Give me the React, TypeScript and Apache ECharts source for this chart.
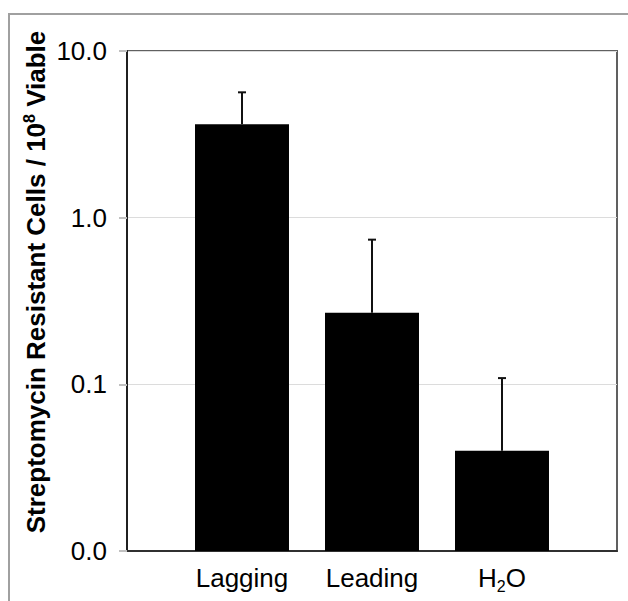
import React, { useEffect, useRef } from "react";
import * as echarts from "echarts";

const categories = ["Lagging", "Leading", "H2O"];
const means = [3.63, 0.269, 0.04];
const upperErrors = [5.65, 0.738, 0.109];
const yMin = 0.01;
const yMax = 10;

const FONT = "'Liberation Sans', Arial, sans-serif";

export default function App() {
  const ref = useRef<HTMLDivElement>(null);
  useEffect(() => {
    if (!ref.current) return;
    const chart = echarts.init(ref.current, null, { renderer: "svg" });
    const barData = categories.map((_, i) => [i, means[i]]);
    const errData = categories.map((_, i) => [i, means[i], upperErrors[i]]);
    chart.setOption({
      animation: false,
      backgroundColor: "#fff",
      textStyle: { fontFamily: FONT },
      grid: [
        { left: 127, top: 51, width: 490, height: 500, show: true, borderColor: "#606060", borderWidth: 2, backgroundColor: "transparent" },
        { left: 177, top: 51, width: 390, height: 500 },
      ],
      xAxis: [
        {
          type: "category",
          gridIndex: 0,
          data: ["x"],
          axisLine: { show: true, lineStyle: { color: "#303030", width: 2 } },
          axisTick: { show: false },
          axisLabel: { show: false },
        },
        {
          type: "category",
          gridIndex: 1,
          data: categories,
          axisLine: { show: false },
          axisTick: { show: false },
          axisLabel: {
            interval: 0,
            margin: 14,
            fontSize: 26,
            color: "#000",
            fontFamily: FONT,
            formatter: (v: string) => (v === "H2O" ? "{n|H}{sub|2}{n|O}" : v),
            rich: {
              n: { fontSize: 26, fontFamily: FONT, color: "#000" },
              sub: { fontSize: 16, fontFamily: FONT, color: "#000", verticalAlign: "bottom", padding: [0, 0, -3, 0] },
            },
          },
        },
      ],
      yAxis: [
        {
          type: "log",
          gridIndex: 0,
          logBase: 10,
          min: yMin,
          max: yMax,
          axisLine: { show: true, lineStyle: { color: "#202020", width: 2 } },
          axisTick: { show: true, length: 8, lineStyle: { color: "#c0c0c0", width: 2 } },
          splitLine: { show: true, lineStyle: { color: "#dcdcdc", width: 1 } },
          axisLabel: {
            margin: 20,
            fontSize: 26,
            color: "#000",
            fontFamily: FONT,
            formatter: (v: number) => v.toFixed(1),
          },
        },
        {
          type: "log",
          gridIndex: 1,
          logBase: 10,
          min: yMin,
          max: yMax,
          show: false,
        },
      ],
      graphic: [
        {
          type: "rect",
          shape: { x: 9, y: 14, width: 700, height: 700 },
          style: { fill: "none", stroke: "#a0a0a0", lineWidth: 2 },
          silent: true,
          z: -10,
        },
        {
          type: "text",
          x: 34,
          y: 282,
          rotation: Math.PI / 2,
          style: {
            text: "{b|Streptomycin Resistant Cells / 10}{sup|8}{b| Viable}",
            align: "center",
            verticalAlign: "middle",
            rich: {
              b: { fontSize: 26, fontWeight: "bold", fontFamily: FONT, fill: "#000", verticalAlign: "bottom", lineHeight: 30 },
              sup: { fontSize: 16, fontWeight: "bold", fontFamily: FONT, fill: "#000", verticalAlign: "bottom", lineHeight: 30, padding: [0, 0, 12, 0] },
            },
          },
        },
      ],
      series: [
        {
          type: "custom",
          xAxisIndex: 1,
          yAxisIndex: 1,
          data: barData,
          z: 2,
          renderItem: (params: any, api: any) => {
            const x = api.value(0);
            const v = api.value(1);
            const top = api.coord([x, v]);
            const bot = api.coord([x, yMin]);
            const w = api.size([1, 0])[0] * 0.723;
            return {
              type: "rect",
              shape: { x: top[0] - w / 2, y: top[1], width: w, height: bot[1] - top[1] },
              style: { fill: "#000" },
            };
          },
        },
        {
          type: "custom",
          xAxisIndex: 1,
          yAxisIndex: 1,
          data: errData,
          z: 3,
          renderItem: (params: any, api: any) => {
            const x = api.value(0);
            const lo = api.coord([x, api.value(1)]);
            const hi = api.coord([x, api.value(2)]);
            const cap = 4;
            return {
              type: "group",
              children: [
                { type: "line", shape: { x1: lo[0], y1: lo[1], x2: hi[0], y2: hi[1] }, style: { stroke: "#111", lineWidth: 2 } },
                { type: "line", shape: { x1: hi[0] - cap, y1: hi[1], x2: hi[0] + cap, y2: hi[1] }, style: { stroke: "#111", lineWidth: 2 } },
              ],
            };
          },
        },
      ],
    });
    return () => chart.dispose();
  }, []);
  return <div ref={ref} style={{ position: "absolute", left: 0, top: 0, width: 628, height: 601 }} />;
}
